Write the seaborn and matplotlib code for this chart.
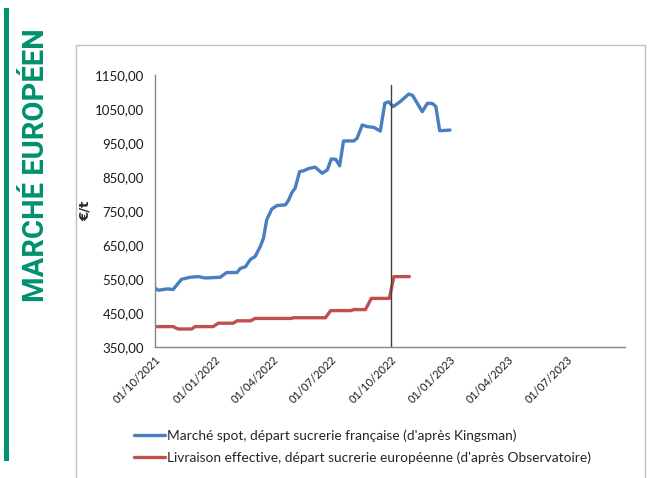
import pandas as pd
import seaborn as sns
import matplotlib.dates as mdates
from matplotlib import pyplot as plt
from matplotlib.patches import Rectangle
from matplotlib.ticker import FuncFormatter

# Marché spot (weekly)
spot_dates = ['2021-10-01', '2021-10-06', '2021-10-21', '2021-10-29', '2021-11-11', '2021-11-24',
              '2021-12-07', '2021-12-18', '2022-01-10', '2022-01-20', '2022-02-05', '2022-02-10',
              '2022-02-18', '2022-02-26', '2022-03-05', '2022-03-13', '2022-03-18', '2022-03-23',
              '2022-03-31', '2022-04-08', '2022-04-21', '2022-04-26', '2022-05-01', '2022-05-06',
              '2022-05-13', '2022-05-19', '2022-05-27', '2022-06-06', '2022-06-17', '2022-06-25',
              '2022-07-01', '2022-07-08', '2022-07-14', '2022-07-20', '2022-08-05', '2022-08-10',
              '2022-08-18', '2022-08-26', '2022-09-05', '2022-09-15', '2022-09-22', '2022-09-28',
              '2022-10-05', '2022-10-16', '2022-10-29', '2022-11-04', '2022-11-19', '2022-11-27',
              '2022-12-05', '2022-12-10', '2022-12-16', '2023-01-01']
spot_values = [523, 517, 521, 519, 549, 555,
               557, 553, 555, 569, 569, 581,
               586, 608, 616, 645, 670, 724,
               756, 766, 768, 782, 804, 817,
               866, 868, 875, 879, 861, 871,
               903, 902, 883, 956, 956, 964,
               1003, 998, 996, 985, 1067, 1071,
               1057, 1072, 1094, 1090, 1042, 1067,
               1066, 1057, 986, 988]

# Livraison effective (monthly levels)
livr_dates = ['2021-10-01', '2021-10-29', '2021-11-06', '2021-11-27', '2021-12-02', '2021-12-30',
              '2022-01-07', '2022-01-30', '2022-02-05', '2022-02-26', '2022-03-05', '2022-04-29',
              '2022-05-04', '2022-06-22', '2022-06-30', '2022-07-31', '2022-08-05', '2022-08-23',
              '2022-09-01', '2022-09-29', '2022-10-06', '2022-10-30']
livr_values = [410, 410, 403, 403, 410, 410,
               420, 420, 427, 427, 434, 434,
               436, 436, 457, 457, 460, 460,
               493, 493, 557, 557]

spot_label = "Marché spot, départ sucrerie française (d'après Kingsman)"
livr_label = "Livraison effective, départ sucrerie européenne (d'après Observatoire)"

spot_df = pd.DataFrame({'date': pd.to_datetime(spot_dates), 'prix': spot_values})
livr_df = pd.DataFrame({'date': pd.to_datetime(livr_dates), 'prix': livr_values})

sns.set_style('white')
plt.rcParams['font.family'] = ['Lato', 'DejaVu Sans']

fig = plt.figure(figsize=(6.54, 4.78), dpi=100)
ax = fig.add_axes([155 / 654, 1 - 347 / 478, 470 / 654, 272 / 478])

sns.lineplot(data=spot_df, x='date', y='prix', ax=ax, color='#4A7EC1', lw=2.4, label=spot_label)
sns.lineplot(data=livr_df, x='date', y='prix', ax=ax, color='#C0504D', lw=2.4, label=livr_label)
ax.axvline(pd.Timestamp('2022-10-01'), ymin=0, ymax=(1120 - 350) / 800, color='#404040', lw=1)

ax.set_xlim(pd.Timestamp('2021-10-01'), pd.Timestamp('2023-09-29'))
ax.set_ylim(350, 1150)
ax.set_yticks(range(350, 1151, 100))
ax.yaxis.set_major_formatter(FuncFormatter(lambda v, p: f"{v:.2f}".replace('.', ',')))
ax.xaxis.set_major_locator(mdates.MonthLocator(bymonth=[1, 4, 7, 10]))
ax.xaxis.set_minor_locator(mdates.MonthLocator())
ax.xaxis.set_major_formatter(mdates.DateFormatter('%d/%m/%Y'))
plt.setp(ax.get_xticklabels(), rotation=45, ha='right', rotation_mode='anchor')

ax.tick_params(axis='y', which='major', direction='out', length=5, color='#868686',
               labelsize=9.5, labelcolor='#1a1a1a', pad=3)
ax.tick_params(axis='x', which='major', direction='inout', length=6, color='#868686',
               labelsize=8, labelcolor='#1a1a1a', pad=2)
ax.tick_params(axis='x', which='minor', direction='in', length=3, color='#868686')
for side in ['top', 'right']:
    ax.spines[side].set_visible(False)
for side in ['left', 'bottom']:
    ax.spines[side].set_color('#868686')
    ax.spines[side].set_linewidth(1)

ax.set_xlabel('')
ax.set_ylabel('€/t', fontweight='bold', fontsize=9.5, labelpad=2, family=['DejaVu Sans'])

ax.get_legend().remove()
handles, labels = ax.get_legend_handles_labels()
fig.legend(handles[:2], labels[:2], loc='upper left', bbox_to_anchor=(122 / 654, 1 - 417 / 478),
           frameon=False, fontsize=9.9, handlelength=2.2, handletextpad=0.2, labelspacing=0.7)

# chart frame and side title
fig.patches.append(Rectangle((76 / 654, -0.01), 569 / 654, 433 / 478 + 0.01, transform=fig.transFigure,
                             fill=False, edgecolor='#BFBFBF', lw=1))
fig.patches.append(Rectangle((4 / 654, 1 - 461 / 478), 5 / 654, 453 / 478, transform=fig.transFigure,
                             facecolor='#00916E', edgecolor='none'))
fig.text(36 / 654, 1 - 165 / 478, 'MARCHÉ EUROPÉEN', rotation=90, ha='center', va='center',
         color='#00916E', fontweight='bold', fontsize=21, family=['Roboto', 'DejaVu Sans'])

fig.savefig('out.png', dpi=100)
